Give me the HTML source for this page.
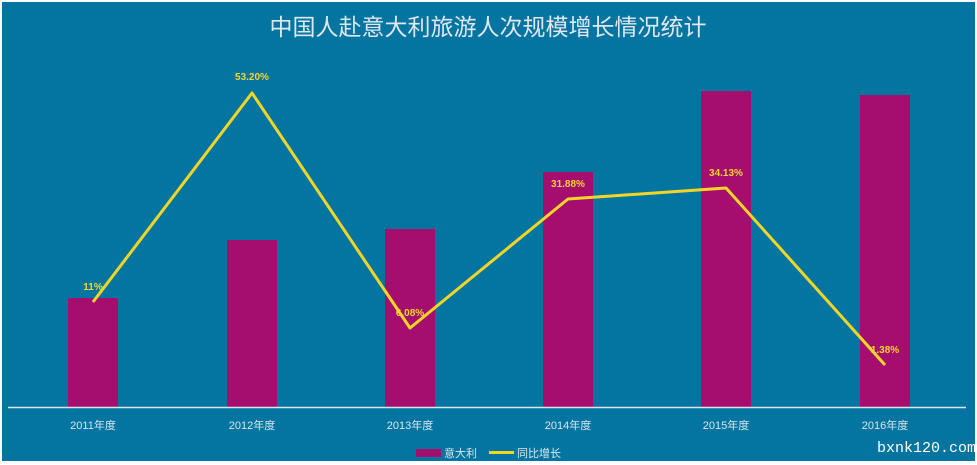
<!DOCTYPE html>
<html><head><meta charset="utf-8"><style>
html,body{margin:0;padding:0;background:#fff}
svg{display:block}
text{font-family:"Liberation Sans","Noto Sans CJK SC",sans-serif}
text.wm{font-family:"Liberation Mono",monospace}
</style></head><body>
<svg width="977" height="465" viewBox="0 0 977 465">
<rect x="2" y="2" width="973" height="459" fill="#0475a1"/>
<text x="488" y="35" text-anchor="middle" font-size="23" fill="#dfe8ee">中国人赴意大利旅游人次规模增长情况统计</text>
<g fill="#a50d6f">
<rect x="68" y="298" width="50" height="109"/>
<rect x="227" y="240" width="50" height="167"/>
<rect x="385" y="229" width="50" height="178"/>
<rect x="543" y="172" width="50" height="235"/>
<rect x="701" y="91" width="50" height="316"/>
<rect x="860" y="95" width="50" height="312"/>
</g>
<line x1="8" y1="407.5" x2="966" y2="407.5" stroke="#d8e6ee" stroke-width="1.5"/>
<polyline points="93,302 252,93 410,328 568,199 726,188 885,365" fill="none" stroke="#f2d627" stroke-width="3" stroke-linejoin="round"/>
<g font-size="10" font-weight="bold" fill="#f2d627" text-anchor="middle">
<text x="93" y="290">11%</text>
<text x="252" y="80">53.20%</text>
<text x="410" y="316">6.08%</text>
<text x="568" y="187">31.88%</text>
<text x="726" y="176">34.13%</text>
<text x="885" y="353">1.38%</text>
</g>
<g font-size="11" fill="#d8e6ee" text-anchor="middle">
<text x="93" y="429">2011年度</text>
<text x="252" y="429">2012年度</text>
<text x="410" y="429">2013年度</text>
<text x="568" y="429">2014年度</text>
<text x="726" y="429">2015年度</text>
<text x="885" y="429">2016年度</text>
</g>
<rect x="416" y="449" width="25" height="8" fill="#a50d6f"/>
<text x="444" y="457" font-size="11" fill="#d8e6ee">意大利</text>
<rect x="489" y="451" width="25" height="3" fill="#f2d627"/>
<text x="517" y="457" font-size="11" fill="#d8e6ee">同比增长</text>
<text class="wm" x="877" y="452" font-size="15" fill="#fff">bxnk120.com</text>
</svg>
</body></html>
